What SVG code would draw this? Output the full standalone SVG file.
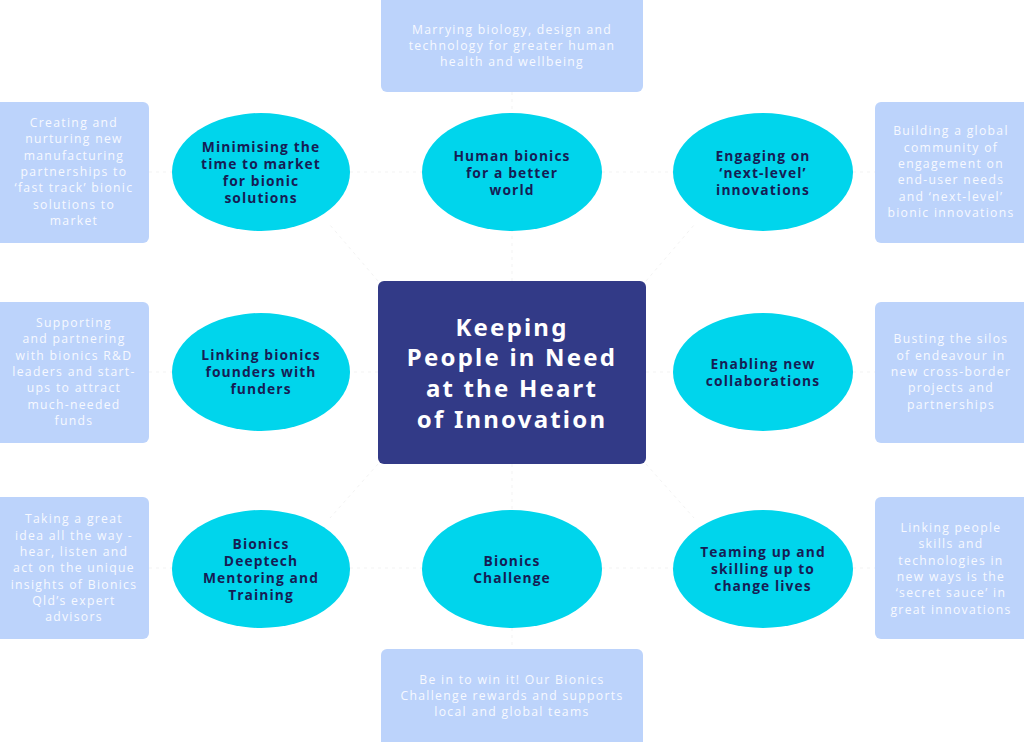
<svg xmlns="http://www.w3.org/2000/svg" width="1024" height="742" viewBox="0 0 1024 742">
<style>
.box{fill:#bcd3fb}
.ell{fill:#00d5ec}
.bt{font-family:"Open Sans","Noto Sans",sans-serif;font-size:12.2px;fill:#f7f9ff;letter-spacing:1.3px;text-anchor:middle}
.et{font-family:"Open Sans","Noto Sans",sans-serif;font-size:13.8px;font-weight:bold;fill:#161d55;letter-spacing:1.1px;text-anchor:middle}
.tt{font-family:"Noto Sans","Open Sans",sans-serif;font-size:24px;font-weight:bold;fill:#ffffff;letter-spacing:2.2px;text-anchor:middle}
.con{stroke:#f3f3f3;stroke-width:1;stroke-dasharray:3 4;fill:none}
</style>
<rect width="1024" height="742" fill="#ffffff"/>
<g id="connectors">
<line class="con" x1="378" y1="281" x2="330" y2="225"/>
<line class="con" x1="512" y1="281" x2="512" y2="231"/>
<line class="con" x1="646" y1="281" x2="694" y2="225"/>
<line class="con" x1="378" y1="372" x2="350" y2="372"/>
<line class="con" x1="646" y1="372" x2="673" y2="372"/>
<line class="con" x1="378" y1="464" x2="330" y2="518"/>
<line class="con" x1="512" y1="464" x2="512" y2="510"/>
<line class="con" x1="646" y1="464" x2="694" y2="518"/>
<line class="con" x1="512" y1="92" x2="512" y2="113"/>
<line class="con" x1="512" y1="628" x2="512" y2="649"/>
<line class="con" x1="149" y1="172" x2="172" y2="172"/>
<line class="con" x1="149" y1="372" x2="172" y2="372"/>
<line class="con" x1="149" y1="568" x2="172" y2="568"/>
<line class="con" x1="853" y1="172" x2="875" y2="172"/>
<line class="con" x1="853" y1="372" x2="875" y2="372"/>
<line class="con" x1="853" y1="568" x2="875" y2="568"/>
<line class="con" x1="350" y1="172" x2="422" y2="172"/>
<line class="con" x1="602" y1="172" x2="673" y2="172"/>
<line class="con" x1="350" y1="568" x2="422" y2="568"/>
<line class="con" x1="602" y1="568" x2="673" y2="568"/>
</g>
<g id="center">
<rect x="378" y="281" width="268" height="183" rx="6" fill="#323a87"/>
<text class="tt"><tspan x="512" y="336">Keeping</tspan><tspan x="512" y="366">People in Need</tspan><tspan x="512" y="397">at the Heart</tspan><tspan x="512" y="428">of Innovation</tspan></text>
</g>
<g id="n-top-left">
<ellipse class="ell" cx="261" cy="172" rx="89" ry="59"/>
<text class="et"><tspan x="261" y="152">Minimising the</tspan><tspan x="261" y="169">time to market</tspan><tspan x="261" y="186">for bionic</tspan><tspan x="261" y="203">solutions</tspan></text>
</g>
<g id="n-top-mid">
<ellipse class="ell" cx="512" cy="172" rx="90" ry="59"/>
<text class="et"><tspan x="512" y="161">Human bionics</tspan><tspan x="512" y="178">for a better</tspan><tspan x="512" y="195">world</tspan></text>
</g>
<g id="n-top-right">
<ellipse class="ell" cx="763" cy="172" rx="90" ry="59"/>
<text class="et"><tspan x="763" y="161">Engaging on</tspan><tspan x="763" y="178">‘next-level’</tspan><tspan x="763" y="195">innovations</tspan></text>
</g>
<g id="n-mid-left">
<ellipse class="ell" cx="261" cy="372" rx="89" ry="59"/>
<text class="et"><tspan x="261" y="360">Linking bionics</tspan><tspan x="261" y="377">founders with</tspan><tspan x="261" y="394">funders</tspan></text>
</g>
<g id="n-mid-right">
<ellipse class="ell" cx="763" cy="372" rx="90" ry="59"/>
<text class="et"><tspan x="763" y="369">Enabling new</tspan><tspan x="763" y="386">collaborations</tspan></text>
</g>
<g id="n-bot-left">
<ellipse class="ell" cx="261" cy="569" rx="89" ry="59"/>
<text class="et"><tspan x="261" y="549">Bionics</tspan><tspan x="261" y="566">Deeptech</tspan><tspan x="261" y="583">Mentoring and</tspan><tspan x="261" y="600">Training</tspan></text>
</g>
<g id="n-bot-mid">
<ellipse class="ell" cx="512" cy="569" rx="90" ry="59"/>
<text class="et"><tspan x="512" y="566">Bionics</tspan><tspan x="512" y="583">Challenge</tspan></text>
</g>
<g id="n-bot-right">
<ellipse class="ell" cx="763" cy="569" rx="90" ry="59"/>
<text class="et"><tspan x="763" y="557">Teaming up and</tspan><tspan x="763" y="574">skilling up to</tspan><tspan x="763" y="591">change lives</tspan></text>
</g>
<g id="b-top">
<rect class="box" x="381" y="-6" width="262" height="98" rx="6"/>
<text class="bt"><tspan x="512" y="34">Marrying biology, design and</tspan><tspan x="512" y="50">technology for greater human</tspan><tspan x="512" y="66">health and wellbeing</tspan></text>
</g>
<g id="b-top-left">
<rect class="box" x="-6" y="102" width="155" height="141" rx="6"/>
<text class="bt"><tspan x="74" y="127">Creating and</tspan><tspan x="74" y="143">nurturing new</tspan><tspan x="74" y="160">manufacturing</tspan><tspan x="74" y="176">partnerships to</tspan><tspan x="74" y="192">‘fast track’ bionic</tspan><tspan x="74" y="209">solutions to</tspan><tspan x="74" y="225">market</tspan></text>
</g>
<g id="b-top-right">
<rect class="box" x="875" y="102" width="155" height="141" rx="6"/>
<text class="bt"><tspan x="951" y="135">Building a global</tspan><tspan x="951" y="152">community of</tspan><tspan x="951" y="168">engagement on</tspan><tspan x="951" y="184">end-user needs</tspan><tspan x="951" y="201">and ‘next-level’</tspan><tspan x="951" y="217">bionic innovations</tspan></text>
</g>
<g id="b-mid-left">
<rect class="box" x="-6" y="302" width="155" height="141" rx="6"/>
<text class="bt"><tspan x="74" y="327">Supporting</tspan><tspan x="74" y="343">and partnering</tspan><tspan x="74" y="360">with bionics R&amp;D</tspan><tspan x="74" y="376">leaders and start-</tspan><tspan x="74" y="392">ups to attract</tspan><tspan x="74" y="409">much-needed</tspan><tspan x="74" y="425">funds</tspan></text>
</g>
<g id="b-mid-right">
<rect class="box" x="875" y="302" width="155" height="141" rx="6"/>
<text class="bt"><tspan x="951" y="343">Busting the silos</tspan><tspan x="951" y="360">of endeavour in</tspan><tspan x="951" y="376">new cross-border</tspan><tspan x="951" y="392">projects and</tspan><tspan x="951" y="409">partnerships</tspan></text>
</g>
<g id="b-bot-left">
<rect class="box" x="-6" y="497" width="155" height="142" rx="6"/>
<text class="bt"><tspan x="74" y="523">Taking a great</tspan><tspan x="74" y="540">idea all the way -</tspan><tspan x="74" y="556">hear, listen and</tspan><tspan x="74" y="572">act on the unique</tspan><tspan x="74" y="589">insights of Bionics</tspan><tspan x="74" y="605">Qld’s expert</tspan><tspan x="74" y="621">advisors</tspan></text>
</g>
<g id="b-bot-right">
<rect class="box" x="875" y="497" width="155" height="142" rx="6"/>
<text class="bt"><tspan x="951" y="532">Linking people</tspan><tspan x="951" y="548">skills and</tspan><tspan x="951" y="565">technologies in</tspan><tspan x="951" y="581">new ways is the</tspan><tspan x="951" y="597">‘secret sauce’ in</tspan><tspan x="951" y="614">great innovations</tspan></text>
</g>
<g id="b-bot">
<rect class="box" x="381" y="649" width="262" height="100" rx="6"/>
<text class="bt"><tspan x="512" y="684">Be in to win it! Our Bionics</tspan><tspan x="512" y="700">Challenge rewards and supports</tspan><tspan x="512" y="716">local and global teams</tspan></text>
</g>
</svg>
